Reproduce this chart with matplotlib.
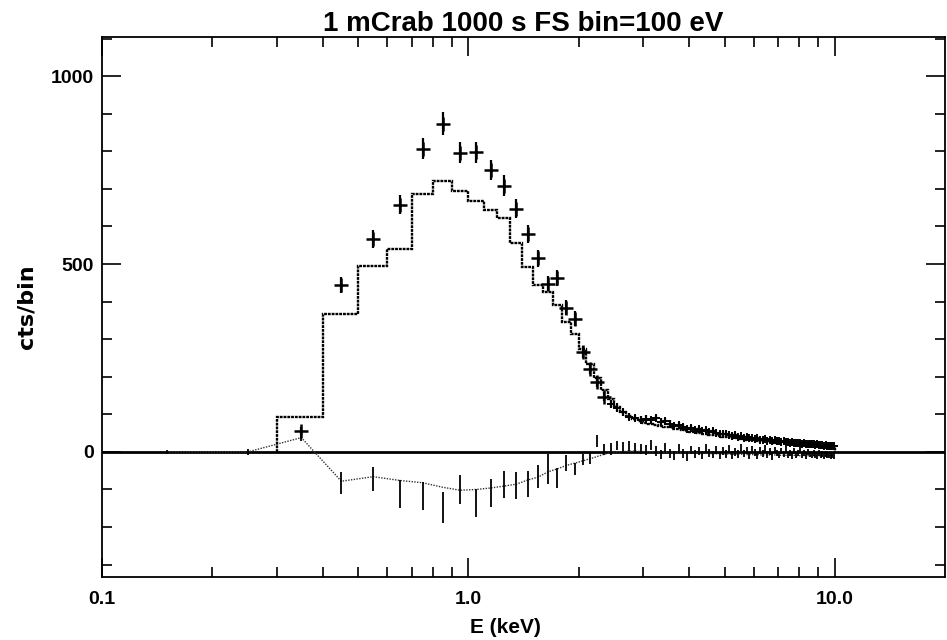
import numpy as np
import matplotlib
matplotlib.use('Agg')
import matplotlib.pyplot as plt
from matplotlib.ticker import FixedLocator, MultipleLocator, NullFormatter

plt.rcParams['font.family'] = ['Liberation Sans', 'DejaVu Sans']

# 100 eV bins, 0.3 - 10.0 keV
bin_lo = 0.3
bin_width = 0.1
n_bins = 97

# model counts per bin (histogram)
model = [94, 366, 495, 540, 687, 722, 695, 668, 645, 622,
         555, 492, 445, 425, 392, 345, 315, 275, 235, 198,
         165, 140, 120, 106, 96, 88, 82, 78, 75, 72,
         70, 67, 65, 62, 60, 58, 56, 54, 52, 51,
         49, 48, 46, 45, 44, 42, 41, 40, 39, 38,
         37, 36, 35, 34, 33, 32, 31, 31, 30, 29,
         28, 28, 27, 26, 26, 25, 24, 24, 23, 23,
         22, 22, 21, 21, 20, 20, 19, 19, 18, 18,
         18, 17, 17, 16, 16, 16, 15, 15, 15, 14,
         14, 14, 13, 13, 13, 12, 12]

# observed counts per bin
data = [56, 444, 567, 658, 807, 874, 796, 797, 751, 709,
        647, 579, 515, 448, 462, 384, 355, 267, 222, 187,
        147, 128, 118, 105, 94, 90, 86, 88, 84, 90,
        80, 82, 75, 70, 72, 66, 62, 63, 58, 60,
        55, 57, 52, 55, 50, 48, 47, 49, 44, 43,
        45, 40, 42, 38, 40, 36, 37, 34, 36, 33,
        32, 34, 30, 31, 29, 32, 28, 29, 27, 28,
        26, 27, 25, 26, 24, 25, 23, 24, 22, 23,
        22, 21, 22, 20, 21, 19, 20, 18, 19, 18,
        17, 18, 16, 17, 16, 15, 15]

data_err = [10, 21, 24, 26, 28, 30, 28, 28, 27, 27,
            25, 24, 23, 21, 21, 20, 19, 16, 15, 14,
            12, 11, 11, 10, 10, 9, 9, 9, 9, 9,
            9, 9, 9, 8, 8, 8, 8, 8, 8, 8,
            7, 7, 7, 7, 7, 7, 7, 7, 7, 7,
            7, 6, 6, 6, 6, 6, 6, 6, 6, 6,
            6, 6, 5, 5, 5, 5, 5, 5, 5, 5,
            5, 5, 5, 5, 5, 5, 5, 5, 5, 5,
            5, 5, 5, 4, 4, 4, 4, 4, 4, 4,
            4, 4, 4, 4, 4, 4, 4]

# difference curve, starts two bins lower (0.1 keV)
resid_lo = 0.1
resid_line = [0, 0, 38, -78, -66, -76, -82, -94, -102, -100,
              -96, -91, -86, -75, -67, -53, -45, -36, -30, -24,
              -18, -12, -6, -2, 0, 1, 2, 2, 1, 1,
              0, 0, -1, -1, -2, -2, -2, -3, -3, -3,
              -3, -4, -4, -4, -4, -5, -5, -5, -5, -5,
              -6, -6, -6, -6, -6, -7, -7, -7, -7, -7,
              -7, -8, -8, -8, -8, -8, -8, -8, -9, -9,
              -9, -9, -9, -9, -9, -9, -9, -10, -10, -10,
              -10, -10, -10, -10, -10, -10, -10, -10, -10, -10,
              -10, -10, -10, -10, -10, -10, -10, -10, -10]

resid_pts = [0, 0, 40, -83, -72, -112, -118, -148, -100, -136,
             -110, -88, -90, -85, -65, -45, -70, -30, -45, -20,
             -16, 28, 6, 8, 18, 12, 15, 10, 8, 5,
             18, 2, -8, 12, -5, -10, 8, -4, -12, 6,
             -6, 3, -9, 10, -3, -7, 5, -10, 2, -5,
             8, -8, 0, -6, 12, -4, 3, -9, 6, -2,
             -10, 4, -5, 9, -7, 1, -12, 5, -3, -8,
             2, -6, 7, -9, -2, -11, 3, -7, -4, 6,
             -8, -3, -10, 1, -6, -9, -2, -7, -11, -4,
             -8, -6, -10, -5, -9, -7, -11, -8, -10]

resid_err = [6, 8, 10, 30, 32, 37, 37, 41, 39, 37,
             37, 36, 36, 35, 31, 40, 27, 22, 16, 14,
             16, 16, 15, 15, 12, 15, 13, 13, 13, 13,
             13, 13, 12, 12, 12, 12, 12, 12, 11, 11,
             11, 11, 11, 11, 11, 10, 10, 10, 10, 10,
             10, 10, 10, 10, 10, 10, 9, 9, 9, 9,
             9, 9, 9, 9, 9, 9, 9, 9, 9, 9,
             8, 8, 8, 8, 8, 8, 8, 8, 8, 8,
             8, 8, 8, 8, 8, 8, 8, 8, 8, 8,
             8, 8, 8, 8, 8, 8, 8, 8, 8]

edges = bin_lo + bin_width * np.arange(n_bins + 1)
centers = edges[:-1] + bin_width / 2
r_centers = resid_lo + bin_width / 2 + bin_width * np.arange(len(resid_line))

fig = plt.figure(figsize=(9.47, 6.40), dpi=100)
ax = fig.add_axes([0.1077, 0.0984, 0.8903, 0.8436])

ax.axhline(0, color='black', lw=2.0, zorder=1)

# model histogram
ax.stairs(model, edges, baseline=0, color='black', lw=1.7,
          linestyle=(0, (1.2, 0.4)), zorder=3)

# data crosses: big plus signs at low energy, small ones where bins crowd
big = centers < 2.4
ax.errorbar(centers, data, yerr=data_err, fmt='none',
            ecolor='black', elinewidth=1.6, capsize=0, zorder=4)
ax.scatter(centers[big], np.array(data)[big], marker='+', s=95,
           linewidths=1.8, color='black', zorder=4)
ax.scatter(centers[~big], np.array(data)[~big], marker='+', s=30,
           linewidths=1.4, color='black', zorder=4)

# difference curve with error bars
ax.plot(r_centers, resid_line, color='#333333', lw=1.0,
        linestyle=(0, (1, 1)), zorder=2)
ax.errorbar(r_centers, resid_pts, yerr=resid_err, fmt='none',
            ecolor='black', elinewidth=1.3, capsize=0, zorder=2)

ax.set_xscale('log')
ax.set_xlim(0.1, 20)
ax.set_ylim(-333, 1104)

ax.xaxis.set_major_locator(FixedLocator([0.1, 1.0, 10.0]))
ax.set_xticklabels(['0.1', '1.0', '10.0'])
ax.xaxis.set_minor_locator(FixedLocator([0.2, 0.3, 0.4, 0.5, 0.6, 0.7, 0.8, 0.9,
                                         2, 3, 4, 5, 6, 7, 8, 9]))
ax.xaxis.set_minor_formatter(NullFormatter())
ax.yaxis.set_major_locator(FixedLocator([0, 500, 1000]))
ax.yaxis.set_minor_locator(MultipleLocator(100))

ax.tick_params(which='both', direction='in', top=True, right=True,
               width=1.2, labelsize=14)
ax.tick_params(which='major', length=14)
ax.tick_params(axis='x', which='major', pad=10)
ax.tick_params(axis='y', which='major', pad=6)
ax.tick_params(which='minor', length=7)
for lbl in ax.get_xticklabels() + ax.get_yticklabels():
    lbl.set_fontweight('bold')

for s in ax.spines.values():
    s.set_linewidth(1.3)

ax.set_title('1 mCrab 1000 s FS bin=100 eV', fontsize=20, fontweight='bold', pad=4)
ax.set_xlabel('E (keV)', fontsize=15, fontweight='bold')
ax.xaxis.set_label_coords(0.479, -0.075)
ax.set_ylabel('cts/bin', fontsize=16, fontweight='bold', family=['DejaVu Sans'])
ax.yaxis.set_label_coords(-0.078, 0.5)

fig.savefig('out.png', dpi=100)
